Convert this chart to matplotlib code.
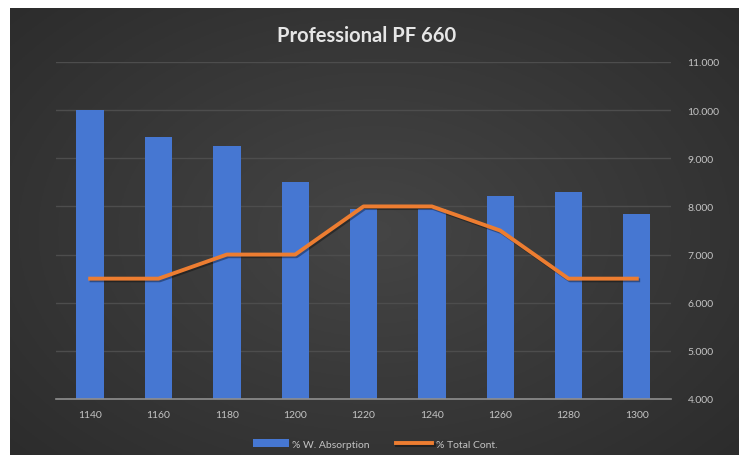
import numpy as np
import matplotlib
matplotlib.use("Agg")
import matplotlib.pyplot as plt
import matplotlib.patheffects as pe

# data
categories = ["1140", "1160", "1180", "1200", "1220", "1240", "1260", "1280", "1300"]
absorption = [10.0, 9.45, 9.25, 8.5, 7.95, 7.95, 8.22, 8.3, 7.85]
total_cont = [6.5, 6.5, 7.0, 7.0, 8.0, 8.0, 7.5, 6.5, 6.5]
y_ticks = [4, 5, 6, 7, 8, 9, 10, 11]

plt.rcParams["font.family"] = ["Lato", "DejaVu Sans"]

W, H = 739, 456
fig = plt.figure(figsize=(W / 100, H / 100), dpi=100)
fig.patch.set_facecolor("white")

# dark panel with soft radial gradient
bg = fig.add_axes([10 / W, 0, 1 - 10 / W, 1 - 9 / H])
yy, xx = np.mgrid[-1:1:200j, -1:1:300j]
r = np.sqrt((xx / 1.0) ** 2 + (yy / 1.1) ** 2)
shade = 0.27 - 0.10 * np.clip(r, 0, 1.4) / 1.4
bg.imshow(np.dstack([shade] * 3), aspect="auto", extent=[0, 1, 0, 1], zorder=0)
bg.set_axis_off()

ax = fig.add_axes([56 / W, 1 - 400 / H, (671 - 56) / W, (400 - 63) / H])
ax.set_facecolor("none")
x = np.arange(len(categories))

bars = ax.bar(x, [v - 4 for v in absorption], bottom=4, width=0.4,
              color="#4677d2", zorder=3)
ax.plot(x, total_cont, color="#ed7d31", lw=2.8, zorder=4,
        solid_joinstyle="round",
        path_effects=[pe.SimpleLineShadow(offset=(1, -1.2), alpha=0.35), pe.Normal()])

ax.set_xlim(-0.5, len(categories) - 0.5)
ax.set_ylim(4, 11)
ax.set_xticks(x)
ax.set_xticklabels(categories)
ax.yaxis.tick_right()
ax.set_yticks(y_ticks)
ax.set_yticklabels(["%d.000" % t for t in y_ticks])
ax.tick_params(axis="both", length=0, colors="#c4c4c4", labelsize=7.5)
ax.tick_params(axis="y", pad=12)
ax.tick_params(axis="x", pad=8)
ax.grid(axis="y", color="#4d4d4d", lw=1, zorder=1)
for s in ["top", "left", "right"]:
    ax.spines[s].set_visible(False)
ax.spines["bottom"].set_color("#8f8f8f")
ax.spines["bottom"].set_linewidth(1.2)
ax.spines["bottom"].set_zorder(5)

fig.text(367 / W, 1 - 36 / H, "Professional PF 660", ha="center", va="center",
         color="#e6e6e6", fontsize=14.5, fontweight="bold")

leg = fig.legend([bars, ax.lines[0]], ["% W. Absorption", "% Total Cont."],
                 loc="center", bbox_to_anchor=(375 / W, 1 - 445 / H), ncol=2,
                 frameon=False, fontsize=7.5, handlelength=3.5, handletextpad=0.3,
                 columnspacing=2.5)
for t in leg.get_texts():
    t.set_color("#c4c4c4")

fig.savefig("out.png", dpi=100)
